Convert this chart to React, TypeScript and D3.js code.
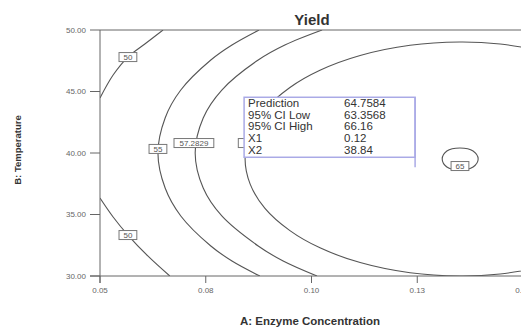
import React from 'react';
import * as d3 from 'd3';

// axes
const xTicks = [0.05, 0.075, 0.1, 0.125, 0.15];
const xTickLabels = ['0.05', '0.08', '0.10', '0.13', '0.15'];
const yTicks = [30, 35, 40, 45, 50];
const yTickLabels = ['30.00', '35.00', '40.00', '45.00', '50.00'];

// contour traces, as [A, B]
const contour50Top: [number, number][] = [
  [0.0649, 50.0], [0.0606, 48.86], [0.0566, 47.8], [0.0531, 46.34], [0.05, 44.47],
];
const contour50Bottom: [number, number][] = [
  [0.05, 36.34], [0.0531, 34.8], [0.0566, 33.33], [0.0613, 31.63], [0.0665, 30.0],
];
const contour55: [number, number][] = [
  [0.0876, 50.0], [0.0812, 48.78], [0.0762, 47.56], [0.0691, 45.12], [0.0654, 42.85],
  [0.0637, 40.0], [0.0654, 37.15], [0.0691, 34.88], [0.0762, 32.44], [0.0812, 31.22], [0.0878, 30.0],
];
const contour5728: [number, number][] = [
  [0.1025, 50.0], [0.0937, 48.78], [0.0874, 47.56], [0.0788, 45.12], [0.0744, 42.85],
  [0.0725, 40.0], [0.0744, 37.15], [0.0788, 34.88], [0.0874, 32.44], [0.0933, 31.22], [0.1013, 30.0],
];
const contour60: [number, number][] = [
  [0.154, 48.34], [0.1446, 48.86], [0.1351, 49.02], [0.1233, 48.76], [0.1115, 47.93],
  [0.102, 46.73], [0.0949, 45.33], [0.089, 43.52], [0.0855, 41.55], [0.0843, 39.51],
  [0.0855, 37.47], [0.089, 35.5], [0.0949, 33.69], [0.102, 32.29], [0.1115, 31.09],
  [0.1233, 30.26], [0.1351, 30.0], [0.1446, 30.16], [0.154, 30.68],
];
const contour65: [number, number][] = [
  [0.1309, 39.51], [0.132, 40.16], [0.1351, 40.41], [0.1382, 40.16],
  [0.1394, 39.51], [0.1382, 38.86], [0.1351, 38.62], [0.132, 38.86],
];

// contour labels
const labelTexts = ['50', '50', '55', '57.2829', '60', '65'];
const labelA = [0.0566, 0.0566, 0.0637, 0.0722, 0.0848, 0.1351];
const labelB = [47.8, 33.33, 40.33, 40.81, 40.81, 38.94];

// prediction flag
const flagNames = ['Prediction', '95% CI Low', '95% CI High', 'X1', 'X2'];
const flagValues = ['64.7584', '63.3568', '66.16', '0.12', '38.84'];
const flagA = 0.12;
const flagB = 38.84;

const W = 521;
const H = 327;
const font = 'Arial, "Liberation Sans", sans-serif';

export default function App() {
  const x = d3.scaleLinear().domain([0.05, 0.15]).range([100, 523]);
  const y = d3.scaleLinear().domain([30, 50]).range([276, 30]);

  const line = d3
    .line<[number, number]>()
    .x(d => x(d[0]))
    .y(d => y(d[1]))
    .curve(d3.curveCatmullRom.alpha(0.5));
  const loop = d3
    .line<[number, number]>()
    .x(d => x(d[0]))
    .y(d => y(d[1]))
    .curve(d3.curveCatmullRomClosed.alpha(0.5));

  const openContours = [contour50Top, contour50Bottom, contour55, contour5728, contour60];

  const px = x(flagA);
  const py = y(flagB);
  const boxR = px + 19;
  const boxL = px - 152;
  const boxT = py - 70;
  const boxB = py - 10;

  return (
    <svg width={W} height={H} style={{ position: 'absolute', left: 0, top: 0, background: '#fff' }}>
      <defs>
        <clipPath id="plot">
          <rect x={100} y={30} width={423} height={246} />
        </clipPath>
        <clipPath id="leftOfFlag">
          <rect x={0} y={0} width={boxL} height={H} />
        </clipPath>
      </defs>

      <g clipPath="url(#plot)" fill="none" stroke="#555" strokeWidth={1.1}>
        {openContours.map((c, i) => (
          <path key={i} d={line(c) || ''} />
        ))}
        <path d={loop(contour65) || ''} />
      </g>

      {/* frame and axes */}
      <g stroke="#666" strokeWidth={1} fill="none">
        <line x1={100} x2={523} y1={30} y2={30} />
        <line x1={100} x2={100} y1={30} y2={283} />
        <line x1={90} x2={523} y1={276} y2={276} />
        {yTicks.map(t => (
          <line key={t} x1={90} x2={100} y1={y(t)} y2={y(t)} />
        ))}
        {xTicks.map(t => (
          <line key={t} x1={x(t)} x2={x(t)} y1={276} y2={283} />
        ))}
      </g>
      <g fontFamily={font} fontSize={8} fill="#666">
        {yTicks.map((t, i) => (
          <text key={t} x={86} y={y(t) + 2.8} textAnchor="end">
            {yTickLabels[i]}
          </text>
        ))}
        {xTicks.map((t, i) => (
          <text key={t} x={x(t)} y={293} textAnchor="middle">
            {xTickLabels[i]}
          </text>
        ))}
      </g>

      {/* contour labels; the one under the flag only peeks out */}
      <g fontFamily={font} fontSize={8}>
        {labelTexts.map((s, i) => {
          const w = s.length * 4.4 + 9;
          const cx = x(labelA[i]);
          const cy = y(labelB[i]);
          const hidden = cx + w / 2 > boxL && cx - w / 2 < boxR && cy > boxT && cy < boxB;
          return (
            <g key={i} clipPath={hidden ? 'url(#leftOfFlag)' : undefined}>
              <rect x={cx - w / 2} y={cy - 4.5} width={w} height={9} fill="#fff" stroke="#777" strokeWidth={1} />
              {!hidden && (
                <text x={cx} y={cy + 2.8} textAnchor="middle" fill="#555">
                  {s}
                </text>
              )}
            </g>
          );
        })}
      </g>

      {/* prediction flag */}
      <rect x={boxL} y={boxT} width={boxR - boxL} height={boxB - boxT} fill="#fff" stroke="#aaaae6" strokeWidth={1.5} />
      <line x1={boxR} x2={boxR} y1={boxT} y2={py} stroke="#aaaae6" strokeWidth={1.5} />
      <g fontFamily={font} fontSize={11.5} fill="#333">
        {flagNames.map((s, i) => (
          <text key={s} x={boxL + 4} y={boxT + 9.7 + i * 11.7}>
            {s}
          </text>
        ))}
        {flagValues.map((s, i) => (
          <text key={i} x={boxL + 100} y={boxT + 9.7 + i * 11.7}>
            {s}
          </text>
        ))}
      </g>

      {/* titles */}
      <text x={312} y={25} textAnchor="middle" fontFamily={font} fontSize={15} fontWeight="bold" fill="#333">
        Yield
      </text>
      <text x={310} y={325} textAnchor="middle" fontFamily={font} fontSize={11.5} fontWeight="bold" fill="#333">
        A: Enzyme Concentration
      </text>
      <text
        transform="translate(21,150) rotate(-90)"
        textAnchor="middle"
        fontFamily={font}
        fontSize={9.5}
        fontWeight="bold"
        fill="#333"
      >
        B: Temperature
      </text>
    </svg>
  );
}
